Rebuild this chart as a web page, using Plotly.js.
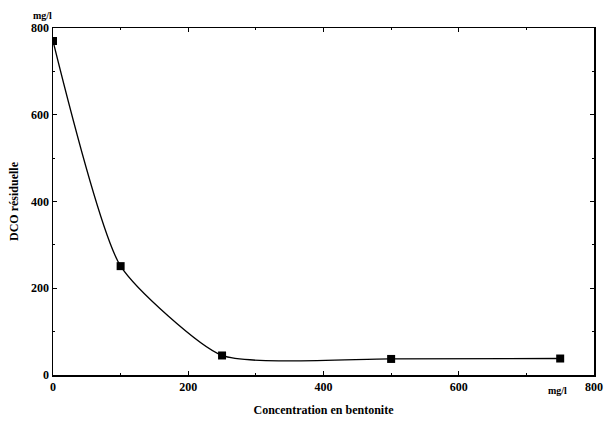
<!DOCTYPE html>
<html><head><meta charset="utf-8">
<script src="https://cdn.plot.ly/plotly-3.0.1.min.js"></script>
<style>html,body{margin:0;padding:0;background:#fff}</style>
</head><body><div id="chart" style="width:607px;height:424px"></div>
<script>
const bentonite = [0, 100, 250, 500, 750];
const dco = [770, 251, 45, 37, 38];
const xTicks = [0, 200, 400, 600, 800];
const yTicks = [0, 200, 400, 600, 800];

const font = {family: '"Liberation Serif", "DejaVu Serif", serif', size: 12, color: '#000'};
const trace = {
  x: bentonite, y: dco, mode: 'lines+markers', type: 'scatter',
  line: {shape: 'spline', smoothing: 0.55, color: '#000', width: 1.3},
  marker: {symbol: 'square', size: 8, color: '#000'}
};
const axisBase = {
  showgrid: false, zeroline: false, showline: true, linecolor: '#000', linewidth: 1.5,
  mirror: 'ticks', ticks: 'inside', ticklen: 4, tickwidth: 1, tickcolor: '#000',
  tickfont: Object.assign({}, font, {weight: 'bold'}),
  minor: {ticks: 'inside', ticklen: 2, dtick: 100, tickcolor: '#000'}
};
const layout = {
  width: 607, height: 424, paper_bgcolor: '#fff', plot_bgcolor: '#fff',
  margin: {l: 53, r: 13, t: 28, b: 49},
  showlegend: false,
  xaxis: Object.assign({}, axisBase, {range: [0, 800], tickvals: xTicks, ticktext: xTicks.map(String),
    title: {text: '<b>Concentration en bentonite</b>', font: font, standoff: 12}}),
  yaxis: Object.assign({}, axisBase, {range: [0, 800], tickvals: yTicks, ticktext: yTicks.map(String),
    title: {text: '<b>DCO résiduelle</b>', font: font, standoff: 10}}),
  annotations: [
    {text: '<b>mg/l</b>', xref: 'paper', yref: 'paper', x: 0, y: 1, xshift: -22, yshift: 20, showarrow: false, font: Object.assign({}, font, {size: 10})},
    {text: '<b>mg/l</b>', xref: 'paper', yref: 'paper', x: 1, y: 0, xshift: -25, yshift: -23, showarrow: false, font: Object.assign({}, font, {size: 10})}
  ]
};
Plotly.newPlot('chart', [trace], layout, {displayModeBar: false, staticPlot: true});
</script></body></html>
